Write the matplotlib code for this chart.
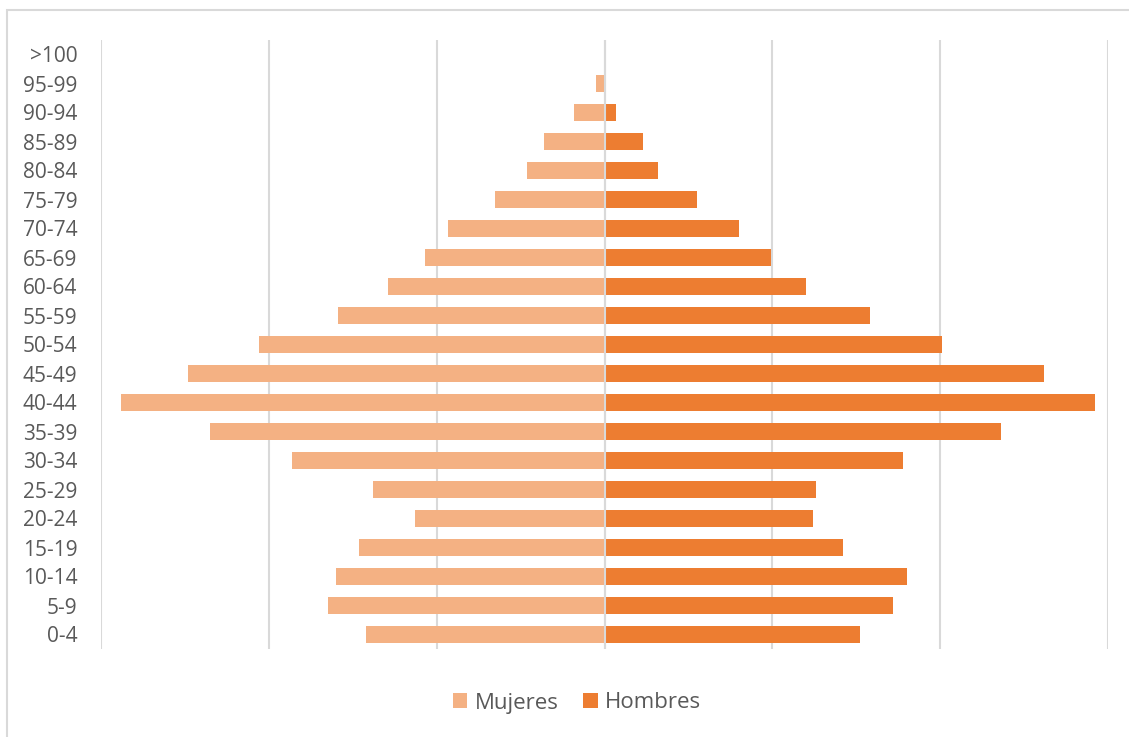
import matplotlib
matplotlib.use("Agg")
import matplotlib.pyplot as plt
import matplotlib.patches as mp
import numpy as np

plt.rcParams["font.family"] = ["Open Sans", "DejaVu Sans"]

C = {"women": "#F4B183", "men": "#ED7D31", "grid": "#D9D9D9", "text": "#595959"}

# age groups, bottom to top
ages = ["0-4", "5-9", "10-14", "15-19", "20-24", "25-29", "30-34", "35-39",
        "40-44", "45-49", "50-54", "55-59", "60-64", "65-69", "70-74",
        "75-79", "80-84", "85-89", "90-94", "95-99", ">100"]
mujeres = [1.42, 1.65, 1.60, 1.46, 1.13, 1.38, 1.86, 2.35,
           2.88, 2.48, 2.06, 1.59, 1.29, 1.07, 0.93,
           0.65, 0.46, 0.36, 0.18, 0.05, 0.005]
hombres = [1.52, 1.72, 1.80, 1.42, 1.24, 1.26, 1.78, 2.36,
           2.92, 2.62, 2.01, 1.58, 1.20, 0.99, 0.80,
           0.55, 0.32, 0.23, 0.07, 0.01, 0.0]

fig = plt.figure(figsize=(11.29, 7.37), dpi=100)
ax = fig.add_axes([101/1129, 1 - 649/737, (1108 - 101)/1129, (649 - 40)/737])

y = np.arange(len(ages))
ax.barh(y, -np.array(mujeres), height=0.58, color=C["women"], label="Mujeres", zorder=2)
ax.barh(y, hombres, height=0.58, color=C["men"], label="Hombres", zorder=2)
ax.axvline(0, color=C["grid"], linewidth=1.5, zorder=3)

ax.set_xlim(-3, 3)
ax.set_ylim(-0.5, len(ages) - 0.5)
ax.set_xticks(np.arange(-3, 4, 1))
ax.set_xticklabels([])
ax.tick_params(axis="x", length=0)
ax.xaxis.grid(True, color=C["grid"], linewidth=1.5)
ax.set_axisbelow(True)
ax.set_yticks(y)
ax.set_yticklabels(ages, fontsize=15, color=C["text"])
ax.tick_params(axis="y", length=0, pad=17)
for s in ax.spines.values():
    s.set_visible(False)

fig.legend(loc="center", bbox_to_anchor=(577/1129, 1 - 703/737), ncol=2,
           frameon=False, fontsize=16, labelcolor=C["text"],
           handlelength=0.65, handleheight=0.65, handletextpad=0.35, columnspacing=1.1)

fig.patches.append(mp.Rectangle((7/1129, -0.05), 1.0, 1 - 10/737 + 0.05,
                                transform=fig.transFigure, fill=False,
                                edgecolor=C["grid"], linewidth=1.5))

fig.savefig("out.png", dpi=100, facecolor="white")
